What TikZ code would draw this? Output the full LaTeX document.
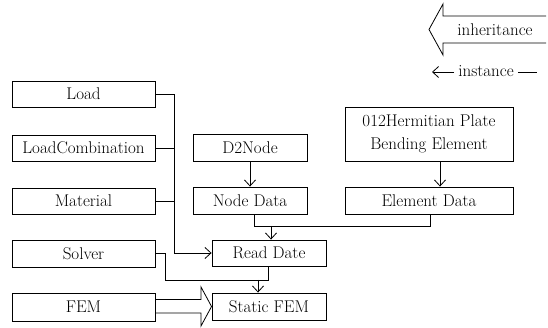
\documentclass[tikz,border=0pt]{standalone}
\usepackage{fontspec}
\usetikzlibrary{arrows.meta,calc}
\begin{document}
\begin{tikzpicture}[x=1pt,y=-1pt,
  box/.style={draw,line width=0.9pt,inner sep=0pt,align=center,font=\fontsize{17}{23}\selectfont},
  conn/.style={line width=0.8pt},
  arr/.style={conn,-{Straight Barb[length=6pt,width=11pt]}},
  lbl/.style={inner sep=0pt,font=\fontsize{17}{21}\selectfont}]
\useasboundingbox (0,0) rectangle (548,328);
% legend
\draw[line width=0.8pt] (546,16) -- (443,16) -- (443,4) -- (429,29.5) -- (443,55) -- (443,43) -- (546,43);
\node[lbl] (inh) at (495,30) {inheritance};
\node[lbl] (inst) at (486,71) {instance};
\coordinate (il) at (432,72);
\coordinate (ir) at (537,72);
\draw[arr] (inst.west |- il) ++(-4,0) -- (il);
\draw[conn] (inst.east |- ir) ++(4,0) -- (ir);
% left column
\node[box,minimum width=143pt,minimum height=26pt] (load) at (83.5,94) {Load};
\node[box,minimum width=143pt,minimum height=26pt] (loadc) at (83.5,148) {LoadCombination};
\node[box,minimum width=143pt,minimum height=26pt] (material) at (83.5,201) {Material};
\node[box,minimum width=143pt,minimum height=27pt] (solver) at (83.5,253.5) {Solver};
\node[box,minimum width=143pt,minimum height=28pt] (fem) at (83.5,307) {FEM};
% middle
\node[box,minimum width=114pt,minimum height=27pt] (d2node) at (250,147.5) {D2Node};
\node[box,minimum width=114pt,minimum height=27pt] (nodedata) at (250,200.5) {Node Data};
\node[box,minimum width=114pt,minimum height=26pt] (read) at (269,253) {Read Date};
\node[box,minimum width=114pt,minimum height=27pt] (static) at (269,306.5) {Static FEM};
% right
\node[box,minimum width=168pt,minimum height=54pt] (herm) at (429,134) {012Hermitian Plate\\Bending Element};
\node[box,minimum width=168pt,minimum height=27pt] (elem) at (429,200.5) {Element Data};
% connectors
\coordinate (bus) at (174,94);
\draw[arr] (load.east) -- (load.east -| bus) |- (read.west);
\draw[conn] (loadc.east) -- (loadc.east -| bus);
\draw[conn] (material.east) -- (material.east -| bus);
\draw[arr] (d2node.south) -- (nodedata.north);
\coordinate (hx) at (440,0);
\draw[arr] (herm.south -| hx) -- (elem.north -| hx);
\coordinate (nx) at (254,226);
\coordinate (ex) at (430,226);
\coordinate (rj) at (271,226);
\draw[conn] (nodedata.south -| nx) -- (nx) -- (ex) -- (elem.south -| ex);
\draw[arr] (rj) -- (read.north -| rj);
\coordinate (sj) at (165,280);
\coordinate (rb) at (268,280);
\coordinate (sa) at (258,280);
\draw[conn] (solver.east) -| (sj) -- (rb) -- (read.south -| rb);
\draw[arr] (sa) -- (static.north -| sa);
% inheritance arrow FEM -> Static FEM
\coordinate (st) at (201,299.5);
\coordinate (sb) at (201,313);
\draw[line width=0.8pt] (fem.east |- st) -- (st) -- ++(0,-12.5) -- (static.west) -- (201,326) -- (sb) -- (fem.east |- sb);
\end{tikzpicture}
\end{document}
